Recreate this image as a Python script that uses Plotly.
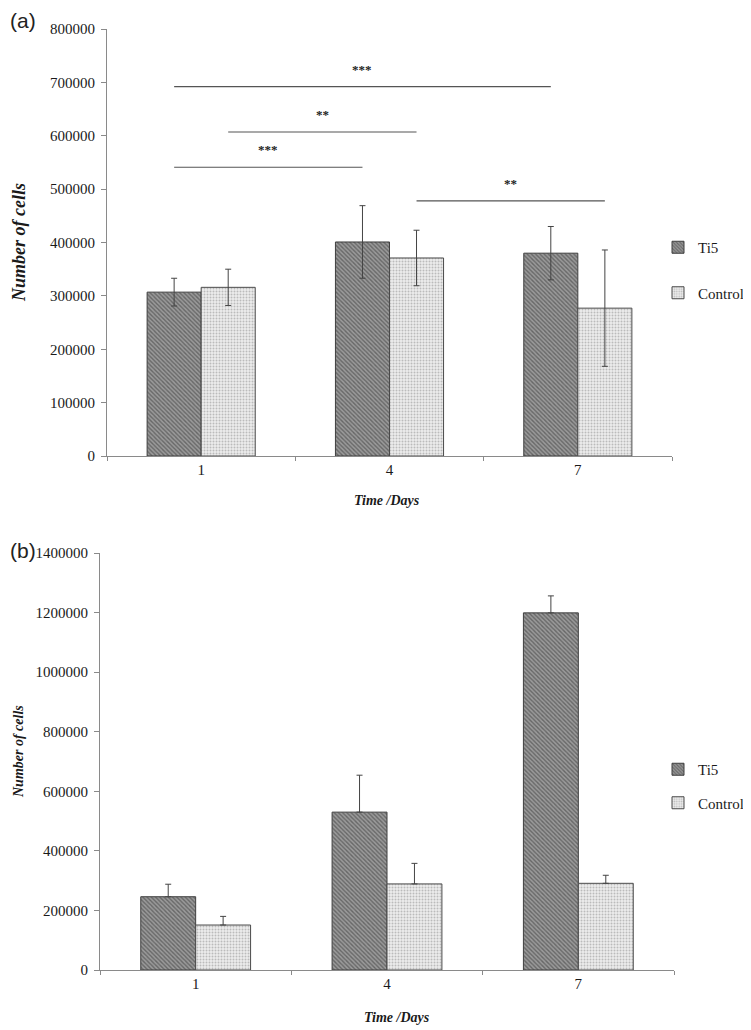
import plotly.graph_objects as go

PAGE_W, PAGE_H = 751, 1030
OFF = 8  # default body margin of the page
W, H = PAGE_W - OFF, PAGE_H - OFF

categories = ["1", "4", "7"]
series_names = ["Ti5", "Control"]

# Panel (a)
a_ti5 = [307000, 401000, 380000]
a_ti5_err = [26000, 68000, 50000]
a_ctrl = [316000, 371000, 277000]
a_ctrl_err = [34000, 52000, 109000]

# significance comparisons in panel (a): (series, day index from, day index to, bracket height, label)
sig_series = ["Ti5", "Control", "Ti5", "Control"]
sig_from = [0, 0, 0, 1]
sig_to = [2, 1, 1, 2]
sig_height = [692000, 607000, 541000, 478000]
sig_label = ["***", "**", "***", "**"]

# Panel (b)
b_ti5 = [246000, 530000, 1199000]
b_ti5_err = [42000, 124000, 57000]
b_ctrl = [151000, 289000, 291000]
b_ctrl_err = [29000, 69000, 27000]

a_ticks = [0, 100000, 200000, 300000, 400000, 500000, 600000, 700000, 800000]
b_ticks = [0, 200000, 400000, 600000, 800000, 1000000, 1200000, 1400000]

SERIF = "Liberation Serif, Times New Roman, serif"
TI5_STYLE = dict(color="#8c8c8c", line=dict(color="#3f3f3f", width=1),
                 pattern=dict(shape="\\", fgcolor="#333333", bgcolor="#9a9a9a", size=3, solidity=0.45))
CTRL_STYLE = dict(color="#e8e8e8", line=dict(color="#4a4a4a", width=1),
                  pattern=dict(shape=".", fgcolor="#8a8a8a", bgcolor="#ececec", size=3, solidity=0.35))
ERR = dict(color="#444444", thickness=1, width=3)

BARGAP = 0.426


def px_x(p):
    return (p - OFF) / W


def px_y(p):
    return (PAGE_H - p) / H


fig = go.Figure()

fig.add_trace(go.Bar(name="Ti5", x=categories, y=a_ti5, marker=TI5_STYLE,
                     error_y=dict(type="data", array=a_ti5_err, visible=True, **ERR),
                     xaxis="x", yaxis="y", legend="legend", legendgroup="a1"))
fig.add_trace(go.Bar(name="Control", x=categories, y=a_ctrl, marker=CTRL_STYLE,
                     error_y=dict(type="data", array=a_ctrl_err, visible=True, **ERR),
                     xaxis="x", yaxis="y", legend="legend", legendgroup="a2"))
fig.add_trace(go.Bar(name="Ti5", x=categories, y=b_ti5, marker=TI5_STYLE,
                     error_y=dict(type="data", symmetric=False, array=b_ti5_err,
                                  arrayminus=[0] * 3, visible=True, **ERR),
                     xaxis="x2", yaxis="y2", legend="legend2", legendgroup="b1"))
fig.add_trace(go.Bar(name="Control", x=categories, y=b_ctrl, marker=CTRL_STYLE,
                     error_y=dict(type="data", symmetric=False, array=b_ctrl_err,
                                  arrayminus=[0] * 3, visible=True, **ERR),
                     xaxis="x2", yaxis="y2", legend="legend2", legendgroup="b2"))

# significance brackets
half = (1 - BARGAP) / 4
shapes = []
annotations = []
for s, f, t, h, lab in zip(sig_series, sig_from, sig_to, sig_height, sig_label):
    off = -half if s == "Ti5" else half
    x0, x1 = f + off, t + off
    shapes.append(dict(type="line", xref="x", yref="y", x0=x0, x1=x1, y0=h, y1=h,
                       line=dict(color="#555555", width=1.2)))
    annotations.append(dict(xref="x", yref="y", x=(x0 + x1) / 2, y=h, text="<b>" + lab + "</b>",
                            showarrow=False, yanchor="bottom", yshift=8,
                            font=dict(family=SERIF, size=13, color="#222")))

tickfont = dict(family=SERIF, size=15, color="#1a1a1a")
axline = dict(showline=True, linecolor="#8a8a8a", linewidth=1, showgrid=False, zeroline=False)

fig.update_layout(
    width=W, height=H, margin=dict(l=0, r=0, t=0, b=0, autoexpand=False),
    paper_bgcolor="white", plot_bgcolor="white",
    barmode="group", bargap=BARGAP, bargroupgap=0,
    xaxis=dict(domain=[px_x(107), px_x(672)], anchor="y", type="category",
               ticks="outside", tickson="boundaries", ticklen=4, tickcolor="#8a8a8a",
               tickfont=tickfont, **axline),
    yaxis=dict(domain=[px_y(456), px_y(29)], anchor="x", range=[0, 800000],
               tickvals=a_ticks, tickformat="d", ticks="outside", ticklen=5, tickcolor="#8a8a8a",
               tickfont=tickfont, ticklabelstandoff=3, **axline),
    xaxis2=dict(domain=[px_x(100), px_x(674)], anchor="y2", type="category",
                ticks="outside", tickson="boundaries", ticklen=4, tickcolor="#8a8a8a",
                tickfont=tickfont, **axline),
    yaxis2=dict(domain=[px_y(970), px_y(553)], anchor="x2", range=[0, 1400000],
                tickvals=b_ticks, tickformat="d", ticks="outside", ticklen=5, tickcolor="#8a8a8a",
                tickfont=tickfont, ticklabelstandoff=3, **axline),
    legend=dict(x=px_x(658), y=px_y(231), xanchor="left", yanchor="top",
                font=dict(family=SERIF, size=15, color="#1a1a1a"),
                tracegroupgap=23, bgcolor="rgba(0,0,0,0)", itemwidth=30),
    legend2=dict(x=px_x(658), y=px_y(753), xanchor="left", yanchor="top",
                 font=dict(family=SERIF, size=15, color="#1a1a1a"),
                 tracegroupgap=11, bgcolor="rgba(0,0,0,0)", itemwidth=30),
    shapes=shapes,
)

titles = [
    dict(x=px_x(19), y=px_y(243), text="<b><i>Number of cells</i></b>", textangle=-90, size=18),
    dict(x=px_x(18), y=px_y(752), text="<b><i>Number of cells</i></b>", textangle=-90, size=14),
    dict(x=px_x(387), y=px_y(501), text="<b><i>Time /Days</i></b>", textangle=0, size=14),
    dict(x=px_x(397), y=px_y(1017), text="<b><i>Time /Days</i></b>", textangle=0, size=14),
]
for t in titles:
    annotations.append(dict(xref="paper", yref="paper", x=t["x"], y=t["y"], text=t["text"],
                            textangle=t["textangle"], showarrow=False,
                            xanchor="center", yanchor="middle",
                            font=dict(family=SERIF, size=t["size"], color="#1a1a1a")))

for lab, yy in [("(a)", 21), ("(b)", 550)]:
    annotations.append(dict(xref="paper", yref="paper", x=px_x(8), y=px_y(yy), text=lab,
                            showarrow=False, xanchor="left", yanchor="middle",
                            font=dict(family="Liberation Sans", size=21, color="#222")))

fig.update_layout(annotations=annotations)

fig.write_html("out.html")
